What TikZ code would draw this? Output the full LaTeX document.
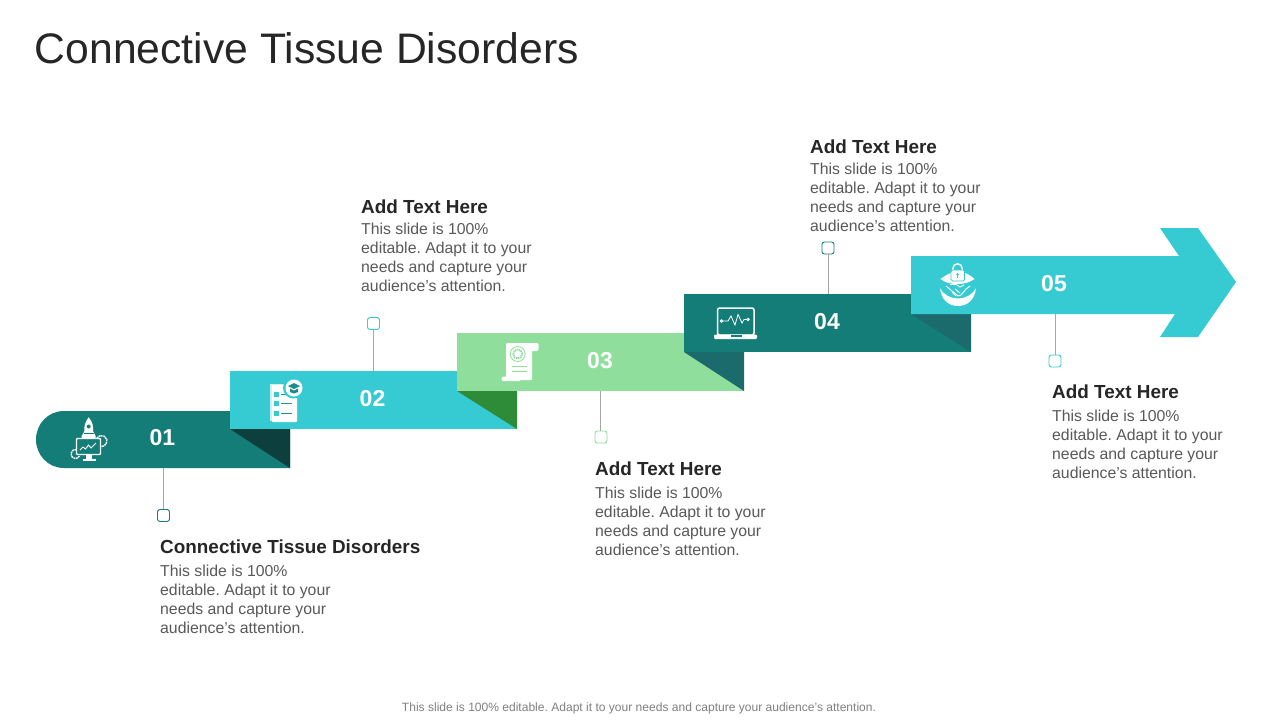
\documentclass[tikz,border=0pt]{standalone}
\usepackage{fontspec}
\setmainfont{Liberation Sans}
\frenchspacing
\definecolor{tealD}{HTML}{147D78}
\definecolor{cyanB}{HTML}{36CBD3}
\definecolor{greenL}{HTML}{8FDE9B}
\definecolor{foldA}{HTML}{0C3F3E}
\definecolor{foldB}{HTML}{2E8B37}
\definecolor{foldC}{HTML}{1B6A6C}
\definecolor{headc}{HTML}{262626}
\definecolor{bodyc}{HTML}{595959}
\tikzset{
  x=1pt,y=-1pt,
  numtext/.style={font=\bfseries\fontsize{23}{28}\selectfont,text=white,inner sep=0pt,anchor=center},
  headtext/.style={font=\bfseries\fontsize{18.9}{22}\selectfont,text=headc,inner sep=0pt,anchor=base west},
  bodytext/.style={font=\fontsize{15.8}{19}\selectfont,text=bodyc,inner sep=0pt,anchor=north west,align=left},
  marker/.style={draw=#1,fill=white,line width=0.9pt,rounded corners=2.5pt,minimum size=12pt,inner sep=0pt},
  lead/.style={draw=black!35,line width=0.8pt},
  ico/.style={fill=white,draw=none},
  icol/.style={draw=white,line width=1.2pt,fill=none},
}
\newcommand{\bodylines}{This slide is 100\%\\editable. Adapt it to your\\needs and capture your\\audience’s attention.}
\begin{document}
\begin{tikzpicture}
\useasboundingbox (0,0) rectangle (1280,720);
\fill[white] (0,0) rectangle (1280,720);
\node[font=\fontsize{42.7}{50}\selectfont,text=headc,inner sep=0pt,anchor=base west] (title) at (34.5,63) {Connective Tissue Disorders};
% bands
\fill[tealD] (290,411) -- (64,411) .. controls (48,411) and (36,424) .. (36,439.5) .. controls (36,455) and (48,468) .. (64,468) -- (290,468) -- cycle;
\fill[foldA] (230,429) -- (290,429) -- (290,468) -- cycle;
\fill[cyanB] (230,371) rectangle (517,429);
\fill[foldB] (457,391) -- (517,391) -- (517,429) -- cycle;
\fill[greenL] (457,333) rectangle (744,391);
\fill[foldC] (684,352) -- (744,352) -- (744,391) -- cycle;
\fill[tealD] (684,294) rectangle (971,352);
\fill[foldC] (911,314) -- (971,314) -- (971,352) -- cycle;
\fill[cyanB] (911,256) -- (1179,256) -- (1160,228) -- (1198,228) -- (1236,282) -- (1198,337) -- (1160,337) -- (1175,314) -- (911,314) -- cycle;
% numbers
\node[numtext] (n1) at (162.5,438) {01};
\node[numtext] (n2) at (372.5,399) {02};
\node[numtext] (n3) at (600,361) {03};
\node[numtext] (n4) at (827,322) {04};
\node[numtext] (n5) at (1054,284) {05};
% connectors
\coordinate (b1) at (163,468);
\coordinate (b2) at (373.5,371);
\coordinate (b3) at (600.5,391);
\coordinate (b4) at (828,294);
\coordinate (b5) at (1055.5,314);
\node[marker=tealD] (s1) at (163.5,515.5) {};
\node[marker=cyanB] (s2) at (373.5,323.5) {};
\node[marker=greenL] (s3) at (601,437) {};
\node[marker=tealD] (s4) at (828,248) {};
\node[marker=cyanB] (s5) at (1055,361) {};
\draw[lead] (b1) -- (s1.north -| b1);
\draw[lead] (b2) -- (s2.south -| b2);
\draw[lead] (b3) -- (s3.north -| b3);
\draw[lead] (b4) -- (s4.south -| b4);
\draw[lead] (b5) -- (s5.north -| b5);
% texts
\node[headtext] (h1) at (160,553.5) {Connective Tissue Disorders};
\node[bodytext] (t1) at (160,564.5) {\bodylines};
\node[headtext] (h2) at (361,213.5) {Add Text Here};
\node[bodytext] (t2) at (361,222.5) {\bodylines};
\node[headtext] (h3) at (595,475.5) {Add Text Here};
\node[bodytext] (t3) at (595,486.5) {\bodylines};
\node[headtext] (h4) at (810,153.5) {Add Text Here};
\node[bodytext] (t4) at (810,162.5) {\bodylines};
\node[headtext] (h5) at (1052,398.5) {Add Text Here};
\node[bodytext] (t5) at (1052,409.5) {\bodylines};
\node[font=\fontsize{12.05}{14}\selectfont,text=black!50,inner sep=0pt,anchor=base] (foot) at (639,711.5) {This slide is 100\% editable. Adapt it to your needs and capture your audience's attention.};
% icon 1: rocket and monitor
\fill[ico] (88.7,417.3) .. controls (85,422) and (84,426) .. (84.5,431) -- (81.7,436) -- (81.7,439) -- (95.7,439) -- (95.7,436) -- (93,431) .. controls (93.5,426) and (92.5,422) .. (88.7,417.3) -- cycle;
\fill[tealD] (88.7,426.5) circle[radius=2pt];
\draw[tealD,line width=0.8pt] (84,433) -- (93.5,433);
\draw[white,line width=1.4pt,dash pattern=on 1.8pt off 0.7pt] (75.5,454) ++(80:4.5pt) arc[start angle=80,end angle=340,radius=4.5pt];
\draw[white,line width=1.4pt,dash pattern=on 1.8pt off 0.7pt] (101.5,441) ++(150:5.5pt) arc[start angle=150,end angle=-100,radius=5.5pt];
\draw[icol,line width=1.4pt,rounded corners=0.8pt,fill=tealD] (76.5,438.5) rectangle (100.5,454.5);
\draw[white,line width=0.9pt] (80,450) -- (83,447) -- (85.5,449) -- (88.5,445) -- (91,448) -- (96,443);
\fill[ico] (86,454.5) rectangle (91.5,458.5);
\fill[ico] (82.5,458.5) rectangle (96,461);
% icon 2: checklist and cap
\fill[white,opacity=0.75] (270,383.5) rectangle (294,421);
\fill[ico,rounded corners=0.8pt] (272,385) rectangle (297,422);
\fill[cyanB] (274,392) rectangle (279,397);
\fill[cyanB] (274,401) rectangle (279,406);
\fill[cyanB] (274,410.5) rectangle (279,415.5);
\foreach \yy in {394.5,403.5,413}{\draw[cyanB!70!black,line width=0.8pt] (281,\yy) -- (291.5,\yy);}
\fill[cyanB] (293.5,388) circle[radius=10.5pt];
\fill[ico] (294,388) circle[radius=8.5pt];
\fill[tealD!80!cyanB] (294,383) -- (300,386) -- (294,389) -- (288,386) -- cycle;
\fill[tealD!80!cyanB] (290,388.5) -- (294,390.5) -- (298,388.5) -- (298,392) -- (294,393.5) -- (290,392) -- cycle;
% icon 3: scroll and seal
\fill[ico,rounded corners=1pt] (506,343) rectangle (532,380);
\fill[ico,rounded corners=1.5pt] (530,343) rectangle (538.5,351);
\fill[ico,rounded corners=1.5pt] (501.5,376.5) rectangle (521,381);
\draw[greenL,line width=0.8pt] (517.7,354) circle[radius=7.5pt];
\draw[greenL,line width=1.8pt,dash pattern=on 1.4pt off 0.7pt] (517.7,354) circle[radius=4.5pt];
\draw[greenL,line width=0.8pt] (511.5,366) -- (527,366);
\draw[greenL,line width=0.8pt] (511.5,371) -- (527,371);
% icon 4: laptop with pulse
\draw[icol,rounded corners=2pt,line width=1.5pt] (717.5,308) rectangle (754,335);
\fill[ico,rounded corners=1.2pt] (714,334.5) rectangle (757,339);
\fill[tealD] (730.5,334.5) rectangle (741.5,336.5);
\draw[white,line width=0.8pt] (723,321) -- (728,321) -- (731,316) -- (735,325) -- (738,314.5) -- (742,323) -- (744,319.5) -- (746.5,319.5);
\draw[white,line width=0.8pt] (721.5,321) circle[radius=1.2pt];
\draw[white,line width=0.8pt] (748,319.5) circle[radius=1.2pt];
% icon 5: lock and handshake
\fill[ico] (940.5,279) .. controls (946,275) and (950,273) .. (954,272) -- (962,272) .. controls (966,273) and (970,275) .. (974.5,279) .. controls (968,283) and (964,284) .. (957.5,284) .. controls (951,284) and (946,283) .. (940.5,279) -- cycle;
\draw[white,line width=1.4pt] (952.8,270) -- (952.8,268.5) arc[start angle=180,end angle=0,radius=4.7pt] -- (962.2,270);
\draw[ico,draw=cyanB,line width=0.7pt,rounded corners=1.5pt] (951,270) rectangle (964.5,281);
\fill[cyanB] (957.7,274.5) circle[radius=1.5pt];
\fill[cyanB] (957,275) rectangle (958.4,278);
\fill[ico] (940,288) .. controls (941,299) and (948,306) .. (958,306) .. controls (968,306) and (975,299) .. (976,288) .. controls (969,302) and (947,302) .. (940,288) -- cycle;
\draw[white,line width=0.9pt] (946,286) -- (952,291) -- (958,296) -- (961,295) -- (966,289) -- (970,286);
\draw[white,line width=0.9pt] (950,284.5) -- (956,284.5) -- (960,287) -- (964,285);
\draw[white,line width=0.9pt] (955,289) -- (960,293);
\draw[white,line width=0.9pt] (952,292) -- (956,296);
\end{tikzpicture}
\end{document}
